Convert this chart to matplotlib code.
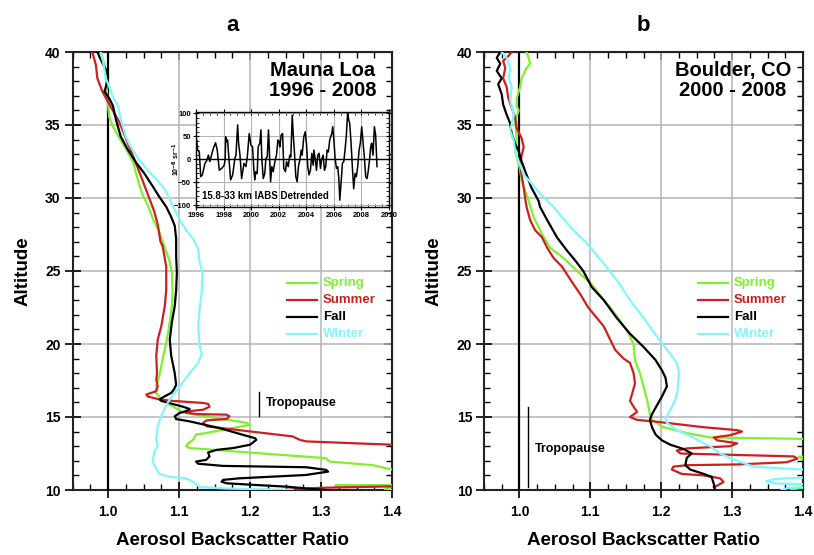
import matplotlib
matplotlib.use('Agg')
import matplotlib.pyplot as plt
import matplotlib.ticker as tck

plt.rcParams['font.family'] = ['Liberation Sans', 'DejaVu Sans']
plt.rcParams['font.weight'] = 'bold'
plt.rcParams['axes.labelweight'] = 'bold'
plt.rcParams['axes.titleweight'] = 'bold'

GREEN = '#7ff02e'
RED = '#cc2020'
CYAN = '#80f6ff'
BLACK = '#000000'
GRID = '#b4b4b4'

# ---- Mauna Loa seasonal profiles (altitude km, backscatter ratio)
ml_spring_alt = [40.0, 39.1, 38.2, 36.4, 35.5, 35.0, 34.1, 33.4, 32.5, 31.8, 30.9, 30.2,
                 29.5, 28.6, 27.7, 26.7, 25.8, 24.9, 23.5, 22.6, 21.5, 20.3, 19.2, 18.0,
                 17.1, 16.7, 16.3, 15.85, 15.3, 14.6, 14.47, 13.9, 13.8, 13.44, 13.2, 13.0,
                 12.87, 12.8, 12.75, 12.18, 11.95, 11.7, 11.4, 11.2, 10.35, 10.3, 10.27,
                 10.05, 10.0]
ml_spring_val = [0.990, 0.995, 0.997, 1.000, 1.002, 1.006, 1.016, 1.025, 1.035, 1.039, 1.044, 1.049,
                 1.056, 1.063, 1.072, 1.079, 1.086, 1.090, 1.091, 1.090, 1.087, 1.083, 1.078, 1.073,
                 1.068, 1.067, 1.074, 1.087, 1.106, 1.195, 1.200, 1.138, 1.124, 1.120, 1.113, 1.110,
                 1.115, 1.138, 1.148, 1.307, 1.312, 1.373, 1.400, 1.450, 1.450, 1.320, 1.400,
                 1.390, 1.400]

ml_summer_alt = [40.0, 39.1, 38.2, 37.3, 36.4, 35.2, 34.1, 32.9, 31.8, 30.9, 30.0, 29.1,
                 28.2, 27.0, 26.7, 25.3, 23.7, 22.6, 21.2, 20.3, 19.2, 18.0, 17.57, 17.1,
                 16.77, 16.54, 16.4, 16.2, 16.1, 15.96, 15.9, 15.7, 15.5, 15.4, 15.3, 15.2,
                 15.16, 15.05, 14.86, 14.77, 14.6, 14.36, 13.67, 13.44, 13.33, 13.1, 13.0,
                 10.3, 10.25, 10.15, 10.05, 10.0]
ml_summer_val = [0.978, 0.983, 0.985, 0.992, 1.002, 1.016, 1.025, 1.035, 1.044, 1.051, 1.058, 1.065,
                 1.070, 1.074, 1.077, 1.082, 1.082, 1.080, 1.075, 1.070, 1.068, 1.069, 1.068, 1.070,
                 1.068, 1.054, 1.056, 1.073, 1.092, 1.134, 1.141, 1.143, 1.134, 1.115, 1.110, 1.125,
                 1.167, 1.171, 1.167, 1.139, 1.134, 1.139, 1.260, 1.270, 1.279, 1.400, 1.450,
                 1.450, 1.400, 1.300, 1.260, 1.250]

ml_fall_alt = [40.0, 39.45, 38.8, 38.3, 37.6, 37.3, 36.8, 36.3, 35.4, 34.2, 33.3, 32.4,
               31.7, 30.8, 30.1, 29.4, 28.7, 28.1, 27.2, 26.0, 24.9, 23.7, 22.6, 21.5,
               20.3, 19.2, 18.0, 17.2, 16.9, 16.65, 16.42, 16.2, 16.1, 15.7, 15.55, 15.4,
               15.28, 15.05, 14.86, 14.7, 14.24, 13.78, 13.55, 13.44, 13.1, 12.87, 12.75,
               12.57, 12.3, 12.06, 11.95, 11.8, 11.65, 11.56, 11.38, 11.26, 11.03, 10.8,
               10.69, 10.57, 10.46, 10.34, 10.23, 10.11, 10.0]
ml_fall_val = [0.985, 0.990, 0.997, 1.000, 0.997, 0.995, 1.002, 1.007, 1.011, 1.018, 1.028, 1.040,
               1.051, 1.063, 1.072, 1.082, 1.089, 1.094, 1.096, 1.096, 1.097, 1.096, 1.094, 1.090,
               1.087, 1.089, 1.094, 1.096, 1.093, 1.089, 1.080, 1.073, 1.075, 1.106, 1.115, 1.110,
               1.101, 1.094, 1.096, 1.115, 1.157, 1.190, 1.207, 1.209, 1.200, 1.176, 1.153,
               1.141, 1.143, 1.138, 1.124, 1.127, 1.162, 1.279, 1.307, 1.310, 1.279, 1.185,
               1.162, 1.160, 1.167, 1.209, 1.251, 1.279, 1.307]

ml_winter_alt = [40.0, 39.1, 38.2, 37.6, 36.9, 36.3, 35.4, 34.2, 33.5, 32.6, 31.9, 31.3,
                 30.6, 29.9, 29.2, 28.5, 27.8, 27.2, 26.5, 25.6, 24.9, 23.5, 22.4, 21.2,
                 19.9, 19.3, 18.7, 18.3, 17.8, 17.4, 16.8, 16.2, 15.8, 15.1, 14.4, 13.5,
                 13.0, 12.6, 11.9, 11.45, 11.1, 10.9, 10.8, 10.55, 10.2, 10.1, 10.0]
ml_winter_val = [0.990, 0.994, 0.997, 1.002, 1.007, 1.014, 1.018, 1.025, 1.032, 1.044, 1.056, 1.068,
                 1.080, 1.087, 1.094, 1.101, 1.110, 1.120, 1.127, 1.129, 1.133, 1.132, 1.129, 1.127,
                 1.129, 1.132, 1.127, 1.120, 1.112, 1.106, 1.096, 1.087, 1.082, 1.075, 1.070, 1.068,
                 1.070, 1.065, 1.063, 1.068, 1.072, 1.087, 1.110, 1.120, 1.129, 1.167, 1.260]

# ---- Boulder seasonal profiles
bo_spring_alt = [40.0, 39.6, 39.2, 38.9, 38.2, 37.6, 36.8, 36.3, 36.0, 35.3, 34.1, 33.2,
                 32.3, 31.9, 31.2, 30.5, 29.8, 28.7, 27.5, 26.6, 25.9, 25.0, 24.2, 23.2,
                 22.5, 21.6, 20.7, 20.0, 18.9, 18.0, 17.1, 16.2, 15.2, 14.8, 14.3, 13.9,
                 13.6, 13.5, 13.4, 12.35, 12.28, 12.1, 11.94, 10.2, 10.1, 10.0]
bo_spring_val = [1.010, 1.013, 1.015, 1.010, 1.003, 1.001, 0.996, 0.996, 0.999, 0.994, 0.996, 0.994,
                 0.999, 1.001, 1.003, 1.008, 1.013, 1.020, 1.032, 1.043, 1.062, 1.081, 1.100, 1.116,
                 1.128, 1.142, 1.154, 1.161, 1.163, 1.170, 1.175, 1.180, 1.184, 1.187, 1.203, 1.236,
                 1.269, 1.400, 1.450, 1.450, 1.394, 1.400, 1.450, 1.450, 1.382, 1.390]

bo_summer_alt = [40.0, 39.7, 39.4, 38.9, 38.2, 37.6, 36.9, 36.2, 35.5, 34.8, 34.1, 33.5,
                 32.9, 32.3, 31.6, 30.7, 30.0, 29.4, 28.5, 27.8, 27.3, 26.6, 25.9, 25.3,
                 24.4, 23.4, 22.5, 21.8, 21.2, 20.3, 19.6, 19.0, 18.7, 18.0, 17.3, 16.6,
                 16.1, 15.7, 15.35, 15.0, 14.8, 14.7, 14.3, 14.1, 14.0, 13.75, 13.6, 13.4,
                 13.2, 13.0, 12.85, 12.7, 12.5, 12.4, 12.3, 12.15, 11.9, 11.75, 11.7, 11.6,
                 11.4, 11.1, 11.0, 10.8, 10.55, 10.3, 10.2]
bo_summer_val = [0.989, 0.984, 0.977, 0.980, 0.977, 0.982, 0.984, 0.989, 0.994, 0.996, 1.003, 1.006,
                 1.003, 1.001, 1.003, 1.006, 1.008, 1.010, 1.015, 1.022, 1.032, 1.039, 1.048, 1.060,
                 1.072, 1.086, 1.097, 1.109, 1.119, 1.128, 1.135, 1.147, 1.156, 1.161, 1.163, 1.159,
                 1.156, 1.161, 1.166, 1.156, 1.166, 1.189, 1.260, 1.307, 1.314, 1.297, 1.274, 1.279,
                 1.307, 1.297, 1.236, 1.222, 1.227, 1.307, 1.387, 1.392, 1.377, 1.307, 1.236, 1.217,
                 1.215, 1.229, 1.260, 1.283, 1.288, 1.279, 1.274]

bo_fall_alt = [40.0, 39.6, 39.2, 38.7, 38.2, 37.8, 37.1, 36.4, 35.7, 35.1, 34.4, 33.7,
               33.2, 32.5, 31.6, 30.7, 29.8, 29.4, 28.5, 27.3, 26.4, 25.7, 25.0, 23.9,
               23.0, 21.8, 20.7, 19.8, 18.9, 18.2, 17.7, 17.1, 16.4, 15.8, 15.2, 14.8,
               14.3, 13.8, 13.4, 13.1, 12.8, 12.5, 12.2, 11.7, 11.4, 11.1, 10.9, 10.45, 10.0]
bo_fall_val = [0.973, 0.968, 0.973, 0.968, 0.975, 0.970, 0.975, 0.977, 0.982, 0.987, 0.989, 0.994,
               0.999, 1.003, 1.010, 1.017, 1.027, 1.029, 1.039, 1.053, 1.067, 1.079, 1.090, 1.102,
               1.119, 1.137, 1.156, 1.175, 1.192, 1.201, 1.206, 1.208, 1.201, 1.194, 1.187, 1.184,
               1.187, 1.192, 1.201, 1.213, 1.232, 1.243, 1.236, 1.234, 1.241, 1.260, 1.271, 1.274, 1.276]

bo_winter_alt = [40.0, 39.6, 38.9, 38.2, 37.6, 36.7, 35.7, 34.6, 33.9, 33.2, 32.5, 31.6,
                 31.0, 30.3, 29.4, 28.0, 26.9, 25.5, 24.4, 23.0, 21.8, 20.5, 19.3, 18.7,
                 18.0, 16.8, 16.2, 15.5, 14.9, 14.6, 14.1, 13.7, 13.2, 13.0, 12.5, 12.1,
                 11.6, 11.4, 11.2, 10.9, 10.75, 10.6, 10.45, 10.4, 10.3, 10.15, 10.0]
bo_winter_val = [0.975, 0.982, 0.987, 0.985, 0.989, 0.987, 0.992, 0.987, 0.992, 0.994, 0.999, 1.006,
                 1.017, 1.029, 1.048, 1.072, 1.095, 1.119, 1.137, 1.156, 1.175, 1.194, 1.213, 1.222,
                 1.225, 1.223, 1.220, 1.213, 1.206, 1.208, 1.222, 1.241, 1.260, 1.269, 1.283, 1.302,
                 1.330, 1.400, 1.450, 1.420, 1.360, 1.348, 1.360, 1.400, 1.440, 1.380, 1.370]

# ---- Inset: 15.8-33 km IABS detrended (1e-6 sr-1)
iabs_year = [1996.05, 1996.12, 1996.24, 1996.34, 1996.46, 1996.65, 1996.78, 1996.9, 1997.0,
             1997.26, 1997.42, 1997.54, 1997.69, 1997.86, 1998.05, 1998.12, 1998.15, 1998.22,
             1998.29, 1998.36, 1998.51, 1998.66, 1998.82, 1998.9, 1999.02, 1999.09, 1999.19,
             1999.31, 1999.48, 1999.62, 1999.72, 1999.86, 1999.98, 2000.1, 2000.2, 2000.27,
             2000.34, 2000.44, 2000.51, 2000.63, 2000.71, 2000.78, 2000.88, 2000.99, 2001.07,
             2001.17, 2001.26, 2001.31, 2001.41, 2001.5, 2001.6, 2001.74, 2001.84, 2001.94,
             2002.03, 2002.08, 2002.18, 2002.28, 2002.37, 2002.49, 2002.57, 2002.69, 2002.8,
             2002.88, 2002.98, 2003.05, 2003.14, 2003.24, 2003.34, 2003.43, 2003.53, 2003.63,
             2003.7, 2003.82, 2003.92, 2004.01, 2004.11, 2004.2, 2004.3, 2004.4, 2004.5,
             2004.55, 2004.64, 2004.74, 2004.83, 2004.93, 2005.03, 2005.1, 2005.22, 2005.32,
             2005.41, 2005.51, 2005.6, 2005.7, 2005.85, 2005.92, 2006.02, 2006.09, 2006.19,
             2006.28, 2006.36, 2006.43, 2006.52, 2006.62, 2006.72, 2006.81, 2006.91, 2007.0,
             2007.08, 2007.15, 2007.25, 2007.34, 2007.44, 2007.54, 2007.63, 2007.73, 2007.83,
             2007.92, 2008.02, 2008.12, 2008.21, 2008.31, 2008.41, 2008.5, 2008.6, 2008.67,
             2008.74, 2008.84, 2008.94, 2009.03, 2009.13]
iabs_val = [42, 20, 16, -38, -34, -9, -3, 9, -5,
            24, 36, 20, -24, -20, -13, 2, 49, 38,
            42, 13, -45, -34, 2, 9, 75, 35, 9,
            -42, -9, -16, 5, 56, 31, 27, -24, -45,
            -27, -31, 27, 35, 64, -2, -42, -31, 2,
            5, 64, 27, -49, -16, -27, -2, 9, 42,
            38, 27, 53, 56, -20, -27, -5, -16, 9,
            5, 96, 56, 16, -38, -49, -16, -2, 20,
            9, 49, 60, 35, -16, -34, -24, 13, -13,
            20, 2, -24, 9, 13, -20, -2, 9, -24,
            -16, 20, 16, 42, 56, 71, 35, 2, -20,
            -16, -42, -89, -53, -9, -5, 20, 53, 103,
            85, 78, 35, -16, -64, -31, -38, -16, 20,
            35, 71, 35, 5, -38, -42, -24, 2, 27,
            35, 9, 71, 53, -16]

SEASONS = [('Spring', GREEN), ('Summer', RED), ('Fall', BLACK), ('Winter', CYAN)]


def style_panel(ax):
    ax.set_xlim(0.95, 1.4)
    ax.set_ylim(10, 40)
    ax.set_xticks([1.0, 1.1, 1.2, 1.3, 1.4])
    ax.set_yticks([10, 15, 20, 25, 30, 35, 40])
    ax.xaxis.set_minor_locator(tck.MultipleLocator(0.025))
    ax.yaxis.set_minor_locator(tck.MultipleLocator(1))
    ax.xaxis.set_major_formatter(tck.FormatStrFormatter('%.1f'))
    ax.grid(which='major', color=GRID, linewidth=1.1)
    ax.set_axisbelow(True)
    ax.tick_params(which='major', direction='inout', length=11, width=1.2,
                   labelsize=10, top=False, right=False, pad=3)
    ax.tick_params(axis='x', which='major', pad=5)
    ax.tick_params(which='minor', direction='in', length=4, width=1.0,
                   top=False, right=False)
    for sp in ax.spines.values():
        sp.set_linewidth(1.5)
        sp.set_color('#222222')
    for side in ('top', 'right'):
        if side == 'top':
            sec = ax.secondary_xaxis('top')
            sec.set_xticks([1.0, 1.1, 1.2, 1.3, 1.4])
            sec.xaxis.set_minor_locator(tck.MultipleLocator(0.025))
        else:
            sec = ax.secondary_yaxis('right')
            sec.set_yticks([10, 15, 20, 25, 30, 35, 40])
            sec.yaxis.set_minor_locator(tck.MultipleLocator(1))
        sec.tick_params(which='major', direction='in', length=6, width=1.2,
                        labelleft=False, labelright=False, labeltop=False,
                        labelbottom=False)
        sec.tick_params(which='minor', direction='in', length=4, width=1.0)
    ax.axvline(1.0, color='black', linewidth=1.6, zorder=3)
    ax.set_xlabel('Aerosol Backscatter Ratio', fontsize=13.5, labelpad=10)
    ax.set_ylabel('Altitude', fontsize=13.5, labelpad=10)
    for i, (name, color) in enumerate(SEASONS):
        y = 0.4726 - i * 0.0385
        ax.plot([0.671, 0.765], [y, y], color=color, linewidth=1.6,
                transform=ax.transAxes, clip_on=False)
        ax.text(0.783, y, name, color=color, fontsize=9.5, va='center',
                ha='left', transform=ax.transAxes)


fig = plt.figure(figsize=(8.14, 5.55), dpi=100)
ax_a = fig.add_axes([72.5 / 814, 65 / 555, 319.5 / 814, 438 / 555])
ax_b = fig.add_axes([484 / 814, 65 / 555, 319 / 814, 438 / 555])

profiles_a = [(ml_spring_val, ml_spring_alt, GREEN), (ml_summer_val, ml_summer_alt, RED),
              (ml_fall_val, ml_fall_alt, BLACK), (ml_winter_val, ml_winter_alt, CYAN)]
profiles_b = [(bo_spring_val, bo_spring_alt, GREEN), (bo_summer_val, bo_summer_alt, RED),
              (bo_fall_val, bo_fall_alt, BLACK), (bo_winter_val, bo_winter_alt, CYAN)]

for ax, profiles in ((ax_a, profiles_a), (ax_b, profiles_b)):
    style_panel(ax)
    for val, alt, color in profiles:
        ax.plot(val, alt, color=color, linewidth=1.6, zorder=4)

ax_a.set_title('a', fontsize=16, pad=15)
ax_b.set_title('b', fontsize=16, pad=15)

ax_a.text(1.302, 39.35, 'Mauna Loa\n1996 - 2008', ha='center', va='top',
          fontsize=14.5, linespacing=1.05)
ax_b.text(1.301, 39.35, 'Boulder, CO\n2000 - 2008', ha='center', va='top',
          fontsize=14.5, linespacing=1.05)

ax_a.plot([1.212, 1.212], [15.1, 16.7], color='black', linewidth=1.0)
ax_a.text(1.223, 15.95, 'Tropopause', fontsize=9, va='center', ha='left')
ax_b.plot([1.0127, 1.0127], [10.2, 15.7], color='black', linewidth=1.0)
ax_b.text(1.0218, 12.8, 'Tropopause', fontsize=9, va='center', ha='left')

# inset time series
ins = fig.add_axes([196 / 814, (555 - 207) / 555, 193 / 814, 95 / 555])
ins.plot(iabs_year, iabs_val, color='black', linewidth=1.1)
ins.axhline(0, color='black', linewidth=1.0)
ins.set_xlim(1996, 2010)
ins.set_ylim(-104, 103)
ins.set_xticks(range(1996, 2011, 2))
ins.set_yticks([-100, -50, 0, 50, 100])
ins.xaxis.set_minor_locator(tck.MultipleLocator(0.5))
ins.yaxis.set_minor_locator(tck.MultipleLocator(10))
ins.grid(which='major', color=GRID, linewidth=0.8)
ins.set_axisbelow(True)
ins.tick_params(which='major', direction='inout', length=4, width=0.8,
                labelsize=5.5, pad=1.5, top=True, right=True)
ins.tick_params(which='minor', direction='in', length=2, width=0.6,
                top=True, right=True)
for sp in ins.spines.values():
    sp.set_linewidth(1.0)
ins.set_ylabel(r'10$^{-6}$ sr$^{-1}$', fontsize=5, labelpad=0)
ins.yaxis.set_label_coords(-0.075, 0.5)
ins.text(1996.45, -80, '15.8-33 km IABS Detrended', fontsize=7,
         ha='left', va='center')

fig.savefig('out.png', dpi=100)
